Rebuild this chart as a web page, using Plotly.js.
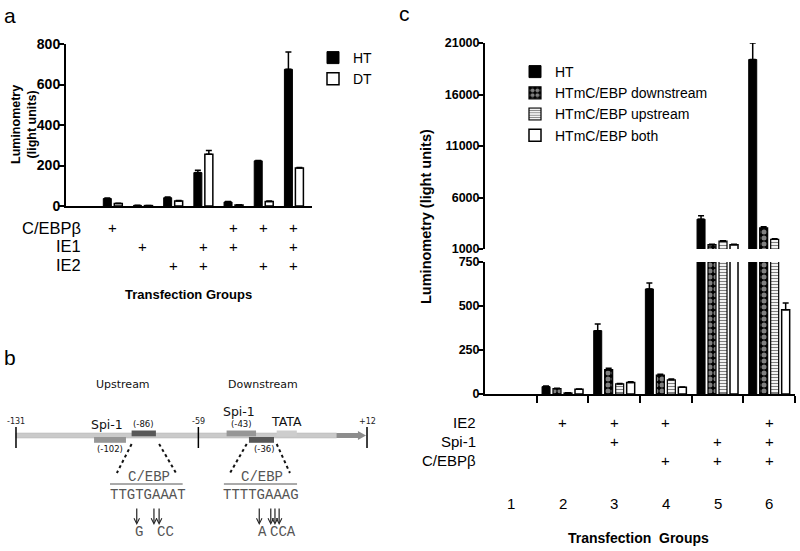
<!DOCTYPE html>
<html><head><meta charset="utf-8">
<script src="https://cdn.plot.ly/plotly-3.0.1.min.js"></script>
<style>html,body{margin:0;padding:0;background:#fff}</style>
</head><body><div id="chart" style="width:800px;height:551px"></div>
<script>
// ---------- Panel a data ----------
const aGroups = [0, 1, 2, 3, 4, 5, 6, 7];
const aHT    = [null, 37, 3, 41, 165, 20, 223, 675];
const aHTerr = [null, 3, 1, 3, 12, 2, 2, 85];
const aDT    = [null, 12, 2, 25, 256, 5, 22, 188];
const aDTerr = [null, 1, 0, 2, 18, 1, 3, 2];
const aRowCEBP = ['', '+', '', '', '', '+', '+', '+'];
const aRowIE1  = ['', '', '+', '', '+', '+', '', '+'];
const aRowIE2  = ['', '', '', '+', '+', '', '+', '+'];
const aYTicks = [0, 200, 400, 600, 800];

// ---------- Panel c data ----------
const cGroups = [1, 2, 3, 4, 5, 6];
const cGroupLabels = ['1', '2', '3', '4', '5', '6'];
const cHT      = [null, 42, 360, 597, 3900, 19400];
const cHTerr   = [null, 3, 38, 33, 320, 1600];
const cDown    = [null, 30, 138, 108, 1420, 3050];
const cDownErr = [null, 2, 8, 4, 40, 120];
const cUp      = [null, 6, 57, 81, 1760, 1940];
const cUpErr   = [null, 1, 3, 4, 40, 60];
const cBoth    = [null, 27, 66, 38, 1420, 479];
const cBothErr = [null, 2, 3, 2, 30, 38];
const cRowIE2  = ['', '+', '+', '+', '', '+'];
const cRowSpi1 = ['', '', '+', '', '+', '+'];
const cRowCEBP = ['', '', '', '+', '+', '+'];
const cLowTicks = [0, 250, 500, 750];
const cHighTicks = [1000, 6000, 11000, 16000, 21000];
const cBetweenTicks = [1.5, 2.5, 3.5, 4.5, 5.5, 6.5];

// ---------- Panel b schematic data (promoter positions, bp) ----------
const bEndTicks = [-131, -56.7, 12];
const bEndTickLabels = ['-131', '-59', '+12'];
const bBoxStart = [-99.2, -83.9, -45.2, -36.1, -24.8];
const bBoxEnd   = [-86.2, -74.0, -33.2, -25.9, -16.6];
const bBoxKind  = ['spi1', 'cebp', 'spi1', 'cebp', 'tata'];
const bBoxTier  = [1, 0, 0, 1, 0];
const bSiteLabels = ['Spi-1', '(-86)', '(-102)', 'Spi-1', '(-43)', 'TATA', '(-36)'];
const bSiteLabelX = [-93.9, -78.9, -92.7, -40.1, -39.3, -21.0, -29.6];
const bSiteLabelRow = [424, 424, 449, 411, 424, 421, 449];
const bRegionNames = ['Upstream', 'Downstream'];
const bRegionX = [-87.4, -30.4];
const bMotifX = [-77.1, -31.0];
const bMotifSeq = ['TTGTGAAAT', 'TTTTGAAAG'];
const bUnderlineFrom = [-92.7, -46.3];
const bUnderlineTo = [-63.1, -16.5];
const bZoomLeftTop = [-83.9, -37.0], bZoomLeftBottom = [-89.9, -43.8];
const bZoomRightTop = [-72.7, -24.8], bZoomRightBottom = [-65.8, -19.4];
const bMutArrows = [-81.8, -74.8, -72.7, -31.9, -27.2, -25.5, -23.8];
const bMutLabels = ['G', 'CC', 'A', 'CCA'];
const bMutLabelX = [-80.8, -70.0, -30.7, -22.3];

const FONT = 'Liberation Sans, Arial, sans-serif';
const MONO = 'Liberation Mono, Courier New, monospace';
const SANS2 = 'DejaVu Sans, sans-serif';
const W = 800, H = 551;
const py = p => 1 - p / H;
const zeros = n => new Array(n).fill(0);

function errs(arr) {
  return {type: 'data', array: arr, arrayminus: zeros(arr.length), symmetric: false,
          color: '#000', thickness: 1.5, width: 3};
}

const traces = [];
// Panel a bars
traces.push({type: 'bar', x: aGroups, y: aHT, name: 'HT', xaxis: 'x', yaxis: 'y',
  width: 0.265, offset: -0.314, marker: {color: '#000', line: {color: '#000', width: 1}},
  error_y: errs(aHTerr), legend: 'legend', hoverinfo: 'skip'});
traces.push({type: 'bar', x: aGroups, y: aDT, name: 'DT', xaxis: 'x', yaxis: 'y',
  width: 0.265, offset: 0.05, marker: {color: '#fff', line: {color: '#000', width: 1.5}},
  error_y: errs(aDTerr), legend: 'legend', hoverinfo: 'skip'});

// Panel c bars (broken axis: lower y3 and upper y4 share x3)
const cSeries = [
  {name: 'HT', y: cHT, e: cHTerr, off: -0.396,
   marker: {color: '#000', line: {color: '#000', width: 1}}},
  {name: 'HTmC/EBP downstream', y: cDown, e: cDownErr, off: -0.184,
   marker: {color: '#000', line: {color: '#000', width: 1.2},
            pattern: {shape: '.', bgcolor: '#000', fgcolor: '#fff', size: 6, solidity: 0.55, fillmode: 'overlay'}}},
  {name: 'HTmC/EBP upstream', y: cUp, e: cUpErr, off: 0.029,
   marker: {color: '#fff', line: {color: '#000', width: 1.2},
            pattern: {shape: '-', bgcolor: '#fff', fgcolor: '#000', size: 3, solidity: 0.4, fillmode: 'overlay'}}},
  {name: 'HTmC/EBP both', y: cBoth, e: cBothErr, off: 0.242,
   marker: {color: '#fff', line: {color: '#000', width: 1.5}}}
];
[['y3', true], ['y4', false]].forEach(([ya, leg]) => {
  cSeries.forEach(s => {
    traces.push({type: 'bar', x: cGroups, y: s.y, name: s.name, xaxis: 'x3', yaxis: ya,
      width: 0.155, offset: s.off, marker: s.marker, error_y: errs(s.e),
      legend: 'legend2', showlegend: leg, legendgroup: s.name, hoverinfo: 'skip'});
  });
});

// ---------- annotations ----------
const ann = [];
function txt(text, x, y, opts) {
  ann.push(Object.assign({text, x, y, xref: 'paper', yref: 'paper', showarrow: false,
    xanchor: 'center', yanchor: 'middle', font: {family: FONT, size: 14, color: '#000'}}, opts || {}));
}
// panel letters
txt('a', 10 / W, py(15), {font: {family: FONT, size: 21, color: '#000'}});
txt('b', 10 / W, py(357), {font: {family: FONT, size: 21, color: '#000'}});
txt('c', 404 / W, py(13), {font: {family: FONT, size: 21, color: '#000'}});

// panel a axis title
txt('Luminometry<br>(light units)', 24 / W, py(125), {textangle: -90,
  font: {family: FONT, size: 12.5, color: '#000', weight: 'bold'}});

// panel a condition rows
[['C/EBPβ', aRowCEBP, 228], ['IE1', aRowIE1, 246], ['IE2', aRowIE2, 265]].forEach(([lab, vals, yy]) => {
  txt(lab, 83 / W, py(yy), {xanchor: 'right', font: {family: FONT, size: 16.5, color: '#000'}});
  vals.forEach((v, i) => { if (v) txt(v, aGroups[i], py(yy), {xref: 'x', font: {family: FONT, size: 15, color: '#000'}}); });
});
txt('Transfection Groups', 188 / W, py(294), {font: {family: FONT, size: 13, color: '#000', weight: 'bold'}});

// panel c condition rows
[['IE2', cRowIE2, 422], ['Spi-1', cRowSpi1, 441], ['C/EBPβ', cRowCEBP, 460]].forEach(([lab, vals, yy]) => {
  txt(lab, 478 / W, py(yy), {xanchor: 'right', font: {family: FONT, size: 15, color: '#000'}});
  vals.forEach((v, i) => { if (v) txt(v, cGroups[i], py(yy), {xref: 'x3', font: {family: FONT, size: 15, color: '#000'}}); });
});
cGroupLabels.forEach((g, i) => txt(g, cGroups[i], py(503), {xref: 'x3', font: {family: FONT, size: 15, color: '#000'}}));
txt('Transfection  Groups', 638 / W, py(538), {font: {family: FONT, size: 14, color: '#000', weight: 'bold'}});
txt('Luminometry (light units)', 426 / W, py(217), {textangle: -90, font: {family: FONT, size: 14.5, color: '#000', weight: 'bold'}});

// panel b texts
function btxt(text, x, y, font) {
  ann.push({text, x, y, xref: 'x5', yref: 'y5', showarrow: false, xanchor: 'center', yanchor: 'middle', font});
}
bRegionNames.forEach((n, i) => btxt(n, bRegionX[i], 384, {family: SANS2, size: 11, color: '#111'}));
bEndTicks.forEach((t, i) => btxt(bEndTickLabels[i], t, 421, {family: SANS2, size: 8, color: '#222'}));
bSiteLabels.forEach((l, i) => {
  const big = (l === 'Spi-1' || l === 'TATA');
  btxt(l, bSiteLabelX[i], bSiteLabelRow[i], {family: SANS2, size: big ? 12.5 : 8.5, color: '#111'});
});
bMotifX.forEach((x, i) => {
  btxt('C/EBP', x + 0.3, 477, {family: MONO, size: 14, color: '#555'});
  btxt(bMotifSeq[i], x, 495, {family: MONO, size: 14, color: '#555'});
});
bMutLabels.forEach((l, i) => btxt(l, bMutLabelX[i], 532, {family: MONO, size: 14, color: '#555'}));
bMutArrows.forEach(x => ann.push({text: '', x, y: 525, ax: x, ay: 507, xref: 'x5', yref: 'y5',
  axref: 'x5', ayref: 'y5', showarrow: true, arrowhead: 5, arrowsize: 0.9, arrowwidth: 1.2, arrowcolor: '#222'}));

// ---------- panel b shapes ----------
const shapes = [];
const bx = {xref: 'x5', yref: 'y5'};
shapes.push(Object.assign({type: 'rect', x0: bEndTicks[0], x1: -0.4, y0: 433, y1: 438,
  fillcolor: '#cacaca', line: {color: '#b0b0b0', width: 0.5}, layer: 'above'}, bx));
shapes.push(Object.assign({type: 'path', path: 'M-0.4,433 L8.3,433 L8.3,431 L11.6,435.5 L8.3,440 L8.3,438 L-0.4,438 Z',
  fillcolor: '#8d8d8d', line: {width: 0}, layer: 'above'}, bx));
const boxColor = {spi1: '#969696', cebp: '#585858', tata: '#cdcdcd'};
bBoxStart.forEach((s, i) => {
  const top = bBoxTier[i] === 0 ? 430.5 : 437;
  shapes.push(Object.assign({type: 'rect', x0: s, x1: bBoxEnd[i], y0: top, y1: top + 5.8,
    fillcolor: boxColor[bBoxKind[i]], line: {width: 0}, layer: 'above'}, bx));
});
bEndTicks.forEach(t => shapes.push(Object.assign({type: 'line', x0: t, x1: t, y0: 427, y1: 448,
  line: {color: '#000', width: 1.5}, layer: 'above'}, bx)));
[[bZoomLeftTop, bZoomLeftBottom], [bZoomRightTop, bZoomRightBottom]].forEach(([tops, bots]) => {
  tops.forEach((t, i) => shapes.push(Object.assign({type: 'line', x0: t, x1: bots[i], y0: 444, y1: 473,
    line: {color: '#111', width: 2, dash: 'dot'}, layer: 'above'}, bx)));
});
bUnderlineFrom.forEach((f, i) => shapes.push(Object.assign({type: 'line', x0: f, x1: bUnderlineTo[i], y0: 484, y1: 484,
  line: {color: '#555', width: 1}, layer: 'above'}, bx)));

const axLine = {showline: true, linecolor: '#000', linewidth: 2, showgrid: false, zeroline: false, fixedrange: true};
const tickFont = {family: FONT, size: 14, color: '#000', weight: 'bold'};
const tickFontC = {family: FONT, size: 12.5, color: '#000', weight: 'bold'};

const layout = {
  width: W, height: H, margin: {l: 0, r: 0, t: 0, b: 0},
  paper_bgcolor: '#fff', plot_bgcolor: 'rgba(0,0,0,0)',
  barmode: 'overlay', showlegend: true,
  font: {family: FONT, color: '#000'},
  xaxis: Object.assign({}, axLine, {domain: [66 / W, 312 / W], range: [-0.55, 7.6], showticklabels: false, ticks: '', anchor: 'y'}),
  yaxis: Object.assign({}, axLine, {domain: [py(206), py(44)], range: [0, 800], tickvals: aYTicks,
    ticks: 'outside', ticklen: 5, tickwidth: 2, tickcolor: '#000', tickfont: tickFont, ticklabelstandoff: -4, anchor: 'x'}),
  xaxis3: Object.assign({}, axLine, {domain: [485 / W, 795 / W], range: [0.5, 6.5], tickvals: cBetweenTicks,
    showticklabels: false, ticks: 'outside', ticklen: 7, tickwidth: 2, tickcolor: '#000', anchor: 'y3'}),
  yaxis3: Object.assign({}, axLine, {domain: [py(394), py(262)], range: [0, 750], tickvals: cLowTicks,
    ticks: 'outside', ticklen: 5, tickwidth: 2, tickcolor: '#000', tickfont: tickFontC, ticklabelstandoff: -4,
    ticklabelshift: -2.5, anchor: 'x3'}),
  yaxis4: Object.assign({}, axLine, {domain: [py(249), py(43)], range: [1000, 21000], tickvals: cHighTicks,
    tickformat: 'd', ticks: 'outside', ticklen: 5, tickwidth: 2, tickcolor: '#000', tickfont: tickFontC, ticklabelstandoff: -4,
    ticklabelshift: 2.5, anchor: 'x3'}),
  xaxis5: {domain: [6 / W, 377 / W], range: [-135.07, 16.07], visible: false, fixedrange: true, anchor: 'y5'},
  yaxis5: {domain: [0, 1], range: [H, 0], visible: false, fixedrange: true, anchor: 'x5'},
  legend: {x: 313 / W, y: py(42), xanchor: 'left', yanchor: 'top', bgcolor: 'rgba(0,0,0,0)',
    font: {family: FONT, size: 14, color: '#000'}, itemwidth: 30, tracegroupgap: 0},
  legend2: {x: 515 / W, y: py(56), xanchor: 'left', yanchor: 'top', bgcolor: 'rgba(0,0,0,0)',
    font: {family: FONT, size: 14, color: '#000'}, itemwidth: 30, tracegroupgap: 0},
  annotations: ann, shapes: shapes
};

Plotly.newPlot('chart', traces, layout, {staticPlot: true, displayModeBar: false});
</script></body></html>
